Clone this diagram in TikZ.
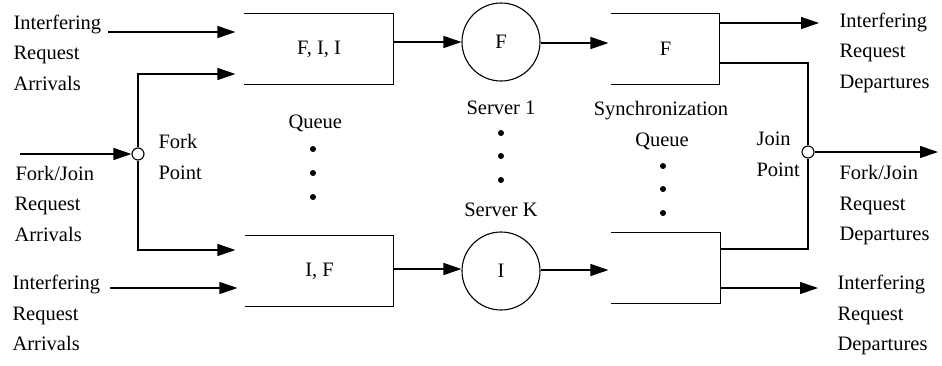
\documentclass[tikz,border=0pt]{standalone}
\usepackage{fontspec}
\setmainfont{Liberation Serif}
\usetikzlibrary{arrows.meta}
\begin{document}
\begin{tikzpicture}[x=1pt,y=-1pt,line width=1.1pt,
  every node/.style={font=\fontsize{20.5}{24}\selectfont, inner sep=0pt},
  qbox/.style={minimum height=70pt, inner sep=0pt},
  srv/.style={circle, draw, minimum size=78pt},
  junc/.style={circle, draw, fill=white, minimum size=12pt},
  arr/.style={-{Triangle[length=18pt,width=12pt]}},
  lbl/.style={anchor=base west},
  clbl/.style={anchor=base},
  dot/.style={circle, fill, minimum size=6pt}]
\useasboundingbox (0,0) rectangle (942,365);

% queues (open on the left)
\node[qbox, minimum width=148pt] (q1) at (319,49) {F, I, I};
\node[qbox, minimum width=147pt] (q2) at (319.5,271) {I, F};
\node[qbox, minimum width=107pt] (j1) at (665.5,49) {F};
\node[qbox, minimum width=108pt] (j2) at (666,268) {};
\foreach \q in {q1,q2,j1,j2}
  \draw (\q.north west) -- (\q.north east) -- (\q.south east) -- (\q.south west);

% servers
\node[srv] (s1) at (501,42) {F};
\node[srv] (sK) at (501,271) {I};

% fork and join points
\node[junc] (fork) at (138,154) {};
\node[junc] (join) at (808,152) {};

% free ends of the connectors
\coordinate (fjin)  at (20,154);
\coordinate (ia1)   at (108,32);
\coordinate (ia2)   at (110,288);
\coordinate (id1)   at (819,23);
\coordinate (id2)   at (818,288);
\coordinate (fjout) at (938,152);

% arrivals
\draw[arr] (fjin) -- (fork.west);
\draw[arr] (ia1) -- ([xshift=-9pt]q1.west |- ia1);
\draw[arr] (ia2) -- ([xshift=-8pt]q2.west |- ia2);
\draw[arr] (fork.north) |- ([xshift=-9pt,yshift=-25pt]q1.west);
\draw[arr] (fork.south) |- ([xshift=-10pt,yshift=21pt]q2.west);

% queue to server to synchronization queue
\draw[arr] (q1.east |- s1.west) -- (s1.west);
\draw[arr] ([yshift=2pt]q2.east |- sK.west) -- ([yshift=2pt]sK.west);
\draw[arr] ([yshift=-1pt]s1.east) -- ([xshift=-3pt,yshift=-1pt]j1.west |- s1.east);
\draw[arr] ([yshift=1pt]sK.east) -- ([xshift=-3pt,yshift=1pt]j2.west |- sK.east);

% departures and join
\draw[arr] (j1.east |- id1) -- (id1);
\draw[arr] (j2.east |- id2) -- (id2);
\draw ([yshift=-14pt]j1.east) -| (join.north);
\draw ([yshift=19pt]j2.east) -| (join.south);
\draw[arr] (join.east) -- (fjout);

% ellipsis dots
\foreach \y in {149,173,197} \node[dot] at (313,\y) {};
\foreach \y in {133,156,180} \node[dot] at (501,\y) {};
\foreach \y in {166,189,213} \node[dot] at (663,\y) {};

% left labels
\node[lbl] (l1a) at (13,29) {Interfering};
\node[lbl] (l1b) at (13,59.5) {Request};
\node[lbl] (l1c) at (13,90) {Arrivals};
\node[lbl] (l2a) at (15,180) {Fork/Join};
\node[lbl] (l2b) at (14,210.5) {Request};
\node[lbl] (l2c) at (14,241) {Arrivals};
\node[lbl] (l3a) at (12,289.5) {Interfering};
\node[lbl] (l3b) at (12,320) {Request};
\node[lbl] (l3c) at (12,350.5) {Arrivals};

% middle labels
\node[lbl] (fka) at (158,148) {Fork};
\node[lbl] (fkb) at (158,179) {Point};
\node[lbl] (qlb) at (288,128.5) {Queue};
\node[clbl] (s1l) at (501,114) {Server 1};
\node[clbl] (sKl) at (501,216) {Server K};
\node[clbl] (syl) at (661,115) {Synchronization};
\node[clbl] (syq) at (662,146) {Queue};
\node[lbl] (jna) at (756,145) {Join};
\node[lbl] (jnb) at (756,176.5) {Point};

% right labels
\node[lbl] (r1a) at (839,27) {Interfering};
\node[lbl] (r1b) at (839,57.5) {Request};
\node[lbl] (r1c) at (839,88) {Departures};
\node[lbl] (r2a) at (839,179) {Fork/Join};
\node[lbl] (r2b) at (839,210) {Request};
\node[lbl] (r2c) at (839,240.5) {Departures};
\node[lbl] (r3a) at (837,289) {Interfering};
\node[lbl] (r3b) at (837,320) {Request};
\node[lbl] (r3c) at (837,350) {Departures};
\end{tikzpicture}
\end{document}
